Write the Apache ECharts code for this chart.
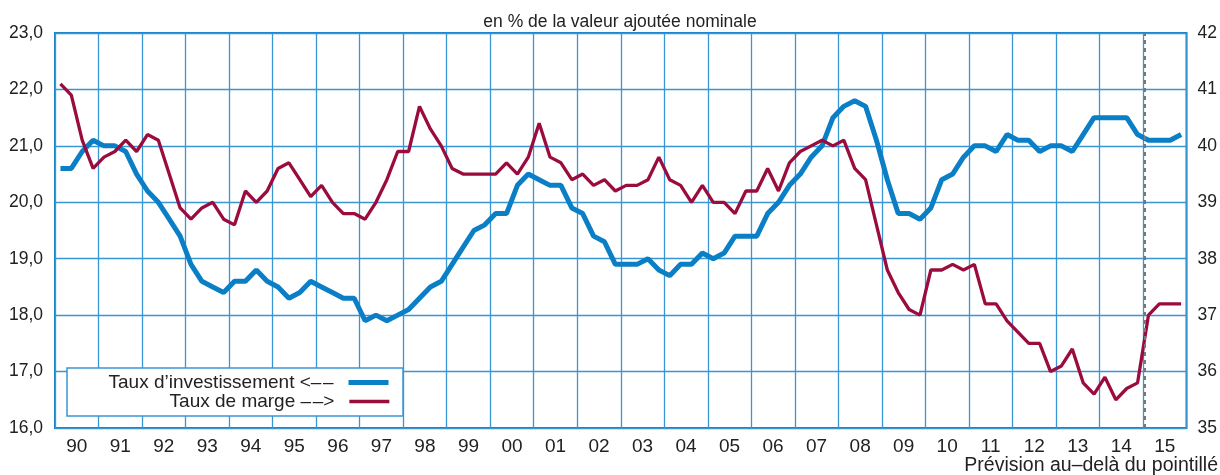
<!DOCTYPE html>
<html>
<head>
<meta charset="utf-8">
<script src="https://cdn.jsdelivr.net/npm/echarts@6/dist/echarts.min.js"></script>
<style>
html, body { margin: 0; padding: 0; background: #fff; }
#chart { width: 1220px; height: 475px; }
</style>
</head>
<body>
<div id="chart"></div>
<script>
// années (libellés de l'axe)
var annees = ['90', '91', '92', '93', '94', '95', '96', '97', '98', '99', '00', '01', '02',
              '03', '04', '05', '06', '07', '08', '09', '10', '11', '12', '13', '14', '15'];

// taux d'investissement, trimestriel (axe de gauche)
var tauxInvest = [
    20.6, 20.6, 20.9, 21.1,  21.0, 21.0, 20.9, 20.5,  20.2, 20.0, 19.7, 19.4,
    18.9, 18.6, 18.5, 18.4,  18.6, 18.6, 18.8, 18.6,  18.5, 18.3, 18.4, 18.6,
    18.5, 18.4, 18.3, 18.3,  17.9, 18.0, 17.9, 18.0,  18.1, 18.3, 18.5, 18.6,
    18.9, 19.2, 19.5, 19.6,  19.8, 19.8, 20.3, 20.5,  20.4, 20.3, 20.3, 19.9,
    19.8, 19.4, 19.3, 18.9,  18.9, 18.9, 19.0, 18.8,  18.7, 18.9, 18.9, 19.1,
    19.0, 19.1, 19.4, 19.4,  19.4, 19.8, 20.0, 20.3,  20.5, 20.8, 21.0, 21.5,
    21.7, 21.8, 21.7, 21.1,  20.4, 19.8, 19.8, 19.7,  19.9, 20.4, 20.5, 20.8,
    21.0, 21.0, 20.9, 21.2,  21.1, 21.1, 20.9, 21.0,  21.0, 20.9, 21.2, 21.5,
    21.5, 21.5, 21.5, 21.2,  21.1, 21.1, 21.1, 21.2
];

// taux de marge, trimestriel (axe de droite)
var tauxMarge = [
    41.1, 40.9, 40.1, 39.6,  39.8, 39.9, 40.1, 39.9,  40.2, 40.1, 39.5, 38.9,
    38.7, 38.9, 39.0, 38.7,  38.6, 39.2, 39.0, 39.2,  39.6, 39.7, 39.4, 39.1,
    39.3, 39.0, 38.8, 38.8,  38.7, 39.0, 39.4, 39.9,  39.9, 40.7, 40.3, 40.0,
    39.6, 39.5, 39.5, 39.5,  39.5, 39.7, 39.5, 39.8,  40.4, 39.8, 39.7, 39.4,
    39.5, 39.3, 39.4, 39.2,  39.3, 39.3, 39.4, 39.8,  39.4, 39.3, 39.0, 39.3,
    39.0, 39.0, 38.8, 39.2,  39.2, 39.6, 39.2, 39.7,  39.9, 40.0, 40.1, 40.0,
    40.1, 39.6, 39.4, 38.6,  37.8, 37.4, 37.1, 37.0,  37.8, 37.8, 37.9, 37.8,
    37.9, 37.2, 37.2, 36.9,  36.7, 36.5, 36.5, 36.0,  36.1, 36.4, 35.8, 35.6,
    35.9, 35.5, 35.7, 35.8,  37.0, 37.2, 37.2, 37.2
];

// début de la prévision (en trimestres depuis 1990T1)
var debutPrevision = 100.2;

var tiret = '\u2013\u200a\u2013';
var nomInvest = 'Taux d\u2019investissement <' + tiret;
var nomMarge = 'Taux de marge ' + tiret + '>';

// trimestres
var trimestres = [];
for (var i = 0; i < annees.length; i++) {
    for (var q = 1; q <= 4; q++) {
        trimestres.push(annees[i] + 'T' + q);
    }
}

var police = '"Liberation Sans", Arial, Helvetica, sans-serif';
var bleuGrille = '#3a95d3';
var bleu = '#0a7fc5';
var rouge = '#9b0c3e';

var chart = echarts.init(document.getElementById('chart'));

//légende : une par ligne, alignée à droite
function legende(nom, haut, epaisseur) {
    return {
        orient: 'vertical', align: 'right',
        right: 829, top: haut, padding: 0,
        itemWidth: 40, itemHeight: 20,
        data: [{
            name: nom,
            itemStyle: {color: 'rgba(0,0,0,0)', borderWidth: 0, opacity: 0},
            lineStyle: {width: epaisseur}
        }],
        textStyle: {fontSize: 19, color: '#222', padding: [0, 10, 0, 0]}
    };
}

var option = {
    animation: false,
    textStyle: {fontFamily: police},
    grid: {
        left: 55, right: 33, top: 33, bottom: 47,
        show: true, borderColor: '#1580c6', borderWidth: 2, backgroundColor: 'transparent'
    },
    graphic: [
        {
            type: 'text', x: 620, y: 22,
            style: {
                text: 'en % de la valeur ajoutée nominale', fill: '#222',
                font: '17.5px ' + police, textAlign: 'center', textVerticalAlign: 'middle'
            }
        },
        {
            type: 'text', right: 2, top: 456,
            style: {
                text: 'Prévision au\u2013delà du pointillé', fill: '#222',
                font: '19.5px ' + police
            }
        },
        {
            // cadre de la légende
            type: 'rect', z: 3,
            shape: {x: 67, y: 368, width: 336, height: 48},
            style: {fill: '#fff', stroke: bleuGrille, lineWidth: 1.5}
        }
    ],
    legend: [
        legende(nomInvest, 373, 5),
        legende(nomMarge, 392, 3.3)
    ],
    xAxis: [
        {
            type: 'category', data: annees, boundaryGap: true,
            axisLine: {show: false}, axisTick: {show: false},
            axisLabel: {fontSize: 19, color: '#222', margin: 9, interval: 0},
            splitLine: {show: true, interval: 0, lineStyle: {color: bleuGrille, width: 1.3}}
        },
        {
            type: 'category', data: trimestres, boundaryGap: true, show: false
        },
        {
            type: 'value', min: 0, max: trimestres.length, show: false
        }
    ],
    yAxis: [
        {
            type: 'value', min: 16, max: 23, interval: 1,
            axisLine: {show: false}, axisTick: {show: false},
            axisLabel: {
                fontSize: 17.5, color: '#222', margin: 12,
                formatter: function (v) { return v.toFixed(1).replace('.', ','); }
            },
            splitLine: {show: true, lineStyle: {color: bleuGrille, width: 1.3}}
        },
        {
            type: 'value', min: 35, max: 42, interval: 1,
            axisLine: {show: false}, axisTick: {show: false},
            axisLabel: {fontSize: 17.5, color: '#222', margin: 11},
            splitLine: {show: false}
        }
    ],
    series: [
        {
            name: nomInvest, type: 'line', xAxisIndex: 1, yAxisIndex: 0,
            data: tauxInvest, symbol: 'none', z: 3,
            lineStyle: {color: bleu, width: 5}, itemStyle: {color: bleu}
        },
        {
            name: nomMarge, type: 'line', xAxisIndex: 1, yAxisIndex: 1,
            data: tauxMarge, symbol: 'none', z: 4,
            lineStyle: {color: rouge, width: 3.3}, itemStyle: {color: rouge}
        },
        {
            // pointillé de la prévision
            type: 'line', xAxisIndex: 2, yAxisIndex: 0, data: [], z: 5,
            markLine: {
                silent: true, symbol: 'none', label: {show: false},
                lineStyle: {color: '#777', width: 2, type: [4, 4]},
                data: [{xAxis: debutPrevision}]
            }
        }
    ]
};

chart.setOption(option);
</script>
</body>
</html>
